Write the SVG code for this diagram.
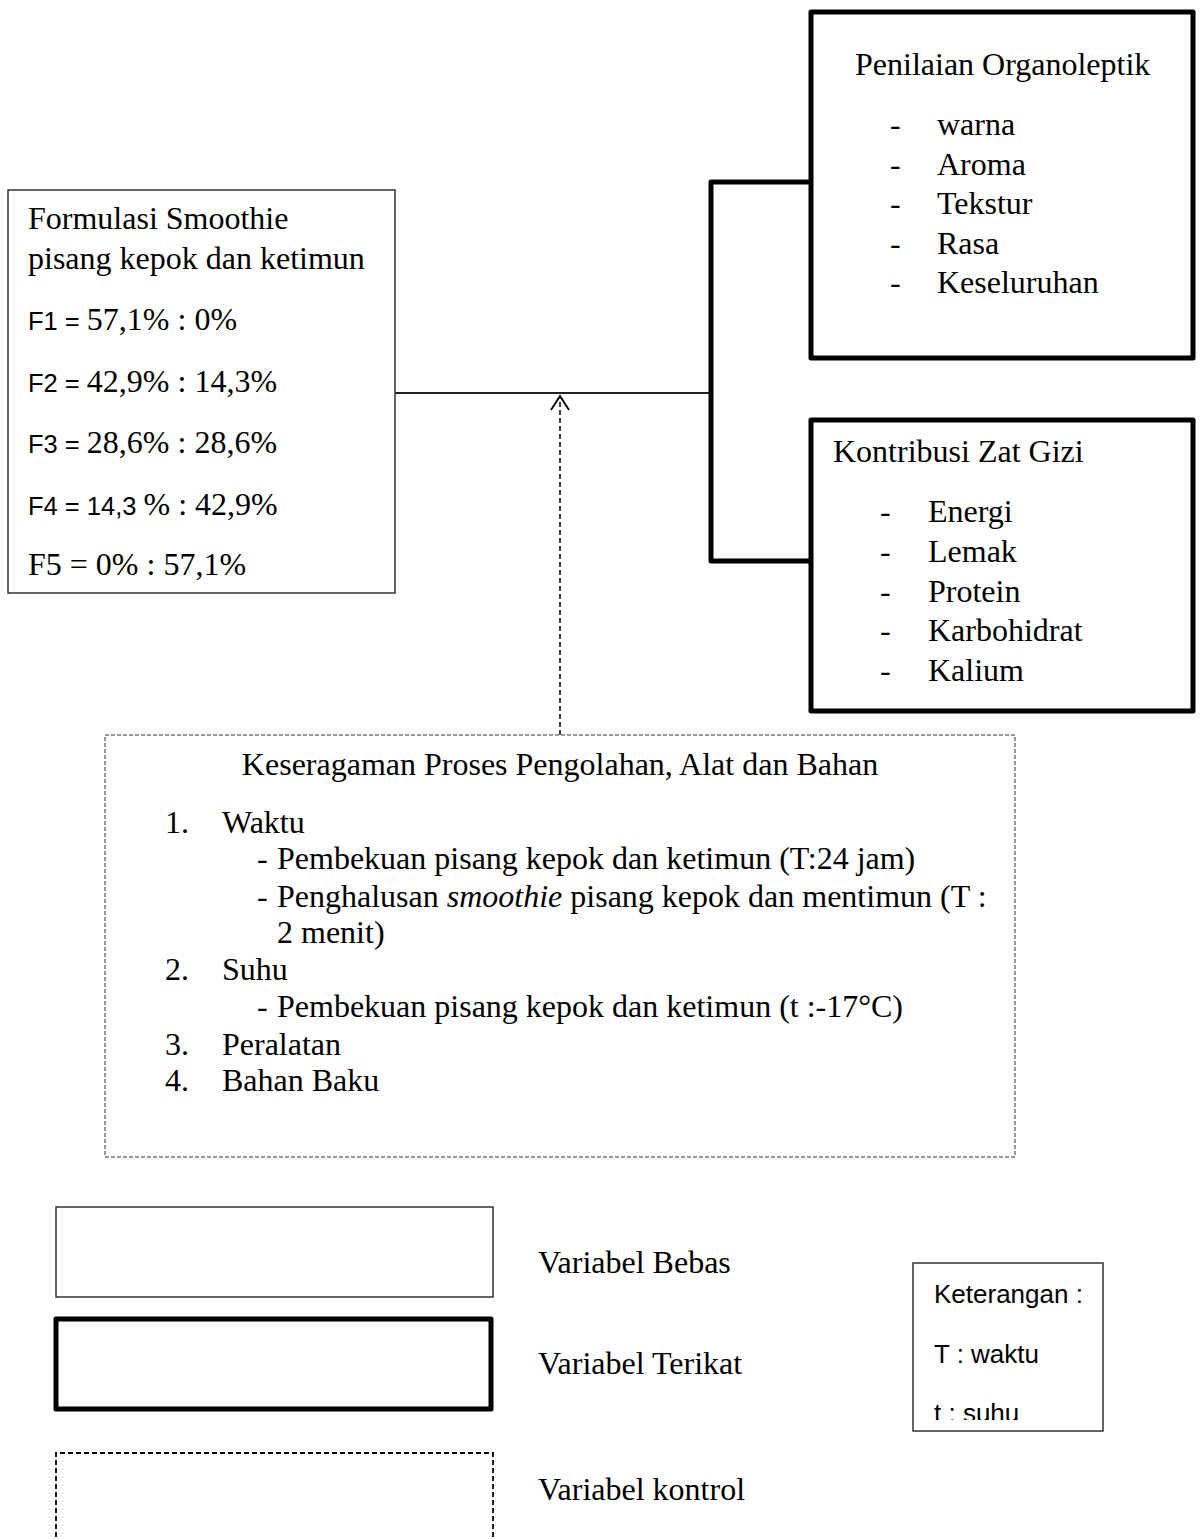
<svg xmlns="http://www.w3.org/2000/svg" width="1202" height="1539" viewBox="0 0 1202 1539">
<style>
.s{font-family:"Liberation Serif","Times New Roman",serif;font-size:32px;fill:#000}
.a{font-family:"Liberation Sans",Arial,sans-serif;font-size:25.5px;fill:#000}
.k{font-family:"Liberation Sans",Arial,sans-serif;font-size:26px;fill:#000}
.thin{fill:#fff;stroke:#333;stroke-width:1.5}
.thick{fill:#fff;stroke:#000;stroke-width:5;stroke-linejoin:round}
.dash{fill:#fff;stroke:#777;stroke-width:1.5;stroke-dasharray:4 2}
</style>
<defs>
<clipPath id="kc"><rect x="913" y="1263" width="190" height="157"/></clipPath>
</defs>
<rect width="1202" height="1539" fill="#fff"/>

<g id="connectors">
<line x1="395" y1="393" x2="711" y2="393" stroke="#222" stroke-width="1.8"/>
<polyline points="810,182 711,182 711,561 810,561" fill="none" stroke="#000" stroke-width="5" stroke-linejoin="round"/>
<path d="M560,735 L560,396" fill="none" stroke="#000" stroke-width="1.5" stroke-dasharray="5 3"/>
<path d="M551,410 L560,396 L569,410" fill="none" stroke="#000" stroke-width="1.8"/>
</g>

<g id="formulasi">
<rect class="thin" x="8" y="190" width="387" height="403"/>
<text class="s" x="28" y="229">Formulasi Smoothie</text>
<text class="s" x="28" y="269">pisang kepok dan ketimun</text>
<text x="28" y="330"><tspan class="a">F1 = </tspan><tspan class="s">57,1% : 0%</tspan></text>
<text x="28" y="392"><tspan class="a">F2 = </tspan><tspan class="s">42,9% : 14,3%</tspan></text>
<text x="28" y="453"><tspan class="a">F3 = </tspan><tspan class="s">28,6% : 28,6%</tspan></text>
<text x="28" y="515"><tspan class="a">F4 = 14,3 </tspan><tspan class="s">% : 42,9%</tspan></text>
<text class="s" x="28" y="575">F5 = 0% : 57,1%</text>
</g>

<g id="organoleptik">
<rect class="thick" x="811" y="12" width="382" height="346"/>
<text class="s" x="855" y="75">Penilaian Organoleptik</text>
<g class="s">
<text x="890" y="135">-</text><text x="937" y="135">warna</text>
<text x="890" y="175">-</text><text x="937" y="175">Aroma</text>
<text x="890" y="214">-</text><text x="937" y="214">Tekstur</text>
<text x="890" y="254">-</text><text x="937" y="254">Rasa</text>
<text x="890" y="293">-</text><text x="937" y="293">Keseluruhan</text>
</g>
</g>

<g id="gizi">
<rect class="thick" x="811" y="420" width="382" height="291"/>
<text class="s" x="833" y="462">Kontribusi Zat Gizi</text>
<g class="s">
<text x="880" y="522">-</text><text x="928" y="522">Energi</text>
<text x="880" y="562">-</text><text x="928" y="562">Lemak</text>
<text x="880" y="602">-</text><text x="928" y="602">Protein</text>
<text x="880" y="641">-</text><text x="928" y="641">Karbohidrat</text>
<text x="880" y="681">-</text><text x="928" y="681">Kalium</text>
</g>
</g>

<g id="kontrol">
<rect class="dash" x="105" y="735" width="910" height="422"/>
<text class="s" x="560" y="775" text-anchor="middle">Keseragaman Proses Pengolahan, Alat dan Bahan</text>
<g class="s">
<text x="165" y="833">1.</text><text x="222" y="833">Waktu</text>
<text x="257" y="869">-</text><text x="277" y="869">Pembekuan pisang kepok dan ketimun (T:24 jam)</text>
<text x="257" y="907">-</text><text x="277" y="907">Penghalusan <tspan font-style="italic">smoothie</tspan> pisang kepok dan mentimun (T :</text>
<text x="277" y="943">2 menit)</text>
<text x="165" y="980">2.</text><text x="222" y="980">Suhu</text>
<text x="257" y="1017">-</text><text x="277" y="1017">Pembekuan pisang kepok dan ketimun (t :-17°C)</text>
<text x="165" y="1055">3.</text><text x="222" y="1055">Peralatan</text>
<text x="165" y="1091">4.</text><text x="222" y="1091">Bahan Baku</text>
</g>
</g>

<g id="legend-bebas">
<rect class="thin" x="56" y="1207" width="437" height="90"/>
<text class="s" x="538" y="1273">Variabel Bebas</text>
</g>
<g id="legend-terikat">
<rect class="thick" x="56" y="1319" width="435" height="90" stroke-width="4.5"/>
<text class="s" x="538" y="1374">Variabel Terikat</text>
</g>
<g id="legend-kontrol">
<path d="M56,1545 L56,1453 L493,1453 L493,1545" fill="none" stroke="#000" stroke-width="1.8" stroke-dasharray="5 3"/>
<text class="s" x="538" y="1500">Variabel kontrol</text>
</g>

<g id="keterangan">
<rect class="thin" x="913" y="1263" width="190" height="168"/>
<g clip-path="url(#kc)">
<text class="k" x="934" y="1303">Keterangan :</text>
<text class="k" x="934" y="1363">T : waktu</text>
<text class="k" x="934" y="1422">t : suhu</text>
</g>
</g>
</svg>
